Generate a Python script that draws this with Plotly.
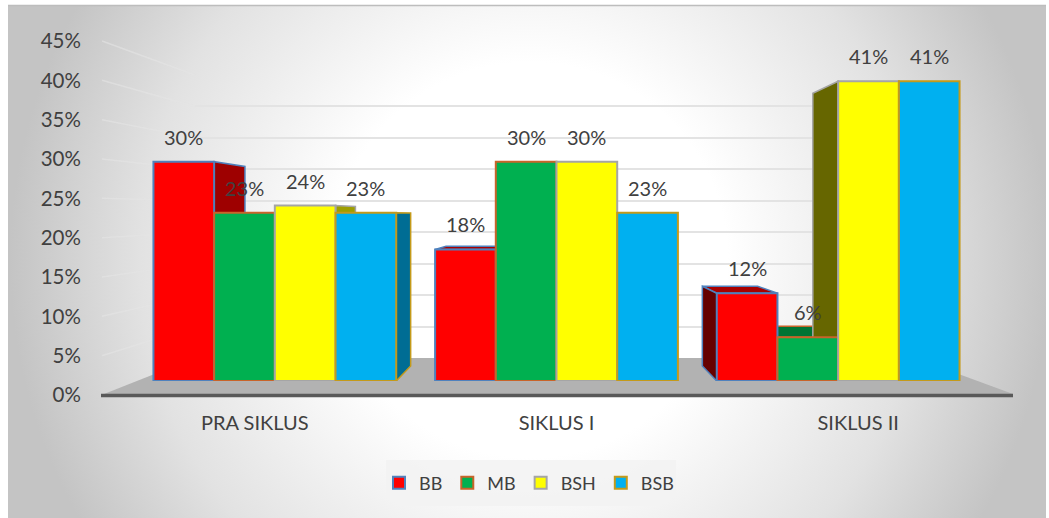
import base64
import plotly.graph_objects as go

categories = ["PRA SIKLUS", "SIKLUS I", "SIKLUS II"]
BB = [30, 18, 12]
MB = [23, 30, 6]
BSH = [24, 30, 41]
BSB = [23, 23, 41]
y_ticks = [0, 5, 10, 15, 20, 25, 30, 35, 40, 45]

W, H = 1049, 518
FONT = "Lato"
TXT = "#404040"
series = [
    ("BB", BB, (255, 0, 0), "#4F81BD"),
    ("MB", MB, (0, 176, 80), "#C8642A"),
    ("BSH", BSH, (255, 255, 0), "#A5A5A5"),
    ("BSB", BSB, (0, 176, 240), "#C49A1A"),
]

def fx(p): return p / W
def fy(p): return 1 - p / H

def shade(rgb, k):
    return "rgb(%d,%d,%d)" % tuple(int(c * k) for c in rgb)

# perspective of the bar depth, in data units of the front plane
GAP = 0.138
BAR_W = (1 - GAP) / 4
VP_X, VP_Y, DEPTH = 1.0, 22.7, 0.91
def back(x, v):
    return VP_X + (x - VP_X) * DEPTH, VP_Y + (v - VP_Y) * DEPTH

fig = go.Figure()

# back wall gridlines carrier
fig.add_trace(go.Scatter(x=[0, 1], y=[0, 45], mode="markers", marker_opacity=0,
                         showlegend=False, hoverinfo="skip", xaxis="x", yaxis="y"))

def face(xs, ys, rgb, k, line):
    fig.add_trace(go.Scatter(x=xs + xs[:1], y=ys + ys[:1], mode="lines", fill="toself",
                             fillcolor=shade(rgb, k), line=dict(color=line, width=1.5),
                             showlegend=False, hoverinfo="skip", xaxis="x2", yaxis="y2"))

# top faces, then side faces
for j, (name, vals, rgb, line) in enumerate(series):
    for i, v in enumerate(vals):
        x0 = i + (j - 2) * BAR_W
        x1 = x0 + BAR_W
        if v < VP_Y:
            a, b = back(x0, v), back(x1, v)
            face([x0, x1, b[0], a[0]], [v, v, b[1], a[1]], rgb, 0.66, line)
for j, (name, vals, rgb, line) in enumerate(series):
    for i, v in enumerate(vals):
        x0 = i + (j - 2) * BAR_W
        x1 = x0 + BAR_W
        if x1 < VP_X - 1e-6:
            a, b = back(x1, 0), back(x1, v)
            face([x1, x1, b[0], a[0]], [0, v, b[1], a[1]], rgb, 0.62, line)
        elif x0 > VP_X + 1e-6:
            a, b = back(x0, 0), back(x0, v)
            face([x0, x0, b[0], a[0]], [0, v, b[1], a[1]], rgb, 0.40, line)

# front faces
for name, vals, rgb, line in series:
    fig.add_trace(go.Bar(name=name, x=categories, y=vals,
                         marker=dict(color=shade(rgb, 1), line=dict(color=line, width=2)),
                         xaxis="x3", yaxis="y3", hoverinfo="skip"))

# carrier for the outer axis labels
fig.add_trace(go.Scatter(x=categories, y=[0, 0, 0], mode="markers", marker_opacity=0,
                         showlegend=False, hoverinfo="skip", xaxis="x4", yaxis="y4"))

# data labels
annotations = []
for j, (name, vals, rgb, line) in enumerate(series):
    for i, v in enumerate(vals):
        annotations.append(dict(x=i + (j - 1.5) * BAR_W, y=v, xref="x2", yref="y2",
                                text=f"{v}%", showarrow=False, yshift=25,
                                font=dict(family=FONT, size=20, color=TXT)))

# backdrop
svg = f"""<svg xmlns='http://www.w3.org/2000/svg' width='1038' height='512'>
<defs><radialGradient id='g' gradientUnits='userSpaceOnUse' cx='522' cy='254' r='520'>
<stop offset='0.38' stop-color='#ffffff'/><stop offset='0.75' stop-color='#e2e2e2'/>
<stop offset='1' stop-color='#c4c4c4'/></radialGradient></defs>
<rect width='1038' height='512' fill='url(#g)'/></svg>"""
src = "data:image/svg+xml;base64," + base64.b64encode(svg.encode()).decode()
images = [dict(source=src, xref="paper", yref="paper", x=fx(8), y=fy(6), sizex=1038 / W,
               sizey=512 / H, sizing="stretch", xanchor="left", yanchor="top", layer="below")]

shapes = [
    dict(type="line", xref="paper", yref="paper", x0=fx(8), x1=fx(1046), y0=fy(5.5), y1=fy(5.5),
         line=dict(color="#BDBDBD", width=1.5), layer="below"),
    dict(type="path", xref="paper", yref="paper", layer="below", line_width=0, fillcolor="#B2B2B2",
         path=f"M{fx(104)},{fy(394)} L{fx(195)},{fy(358)} L{fx(915)},{fy(358)} L{fx(1013)},{fy(394)} Z"),
    dict(type="line", xref="paper", yref="paper", x0=fx(101), x1=fx(1013), y0=fy(395.5), y1=fy(395.5),
         line=dict(color="#595959", width=3.5), layer="below"),
    dict(type="rect", xref="paper", yref="paper", layer="below", line_width=0,
         fillcolor="rgba(242,242,242,0.85)", x0=fx(386), x1=fx(676), y0=fy(460), y1=fy(506)),
]
# side wall gridlines run from the labels to the back wall
for t in y_ticks[1:]:
    shapes.append(dict(type="line", xref="paper", yref="paper", layer="below",
                       x0=fx(102), x1=fx(195),
                       y0=fy(395 - t * (354 / 45)), y1=fy(358 - t * (283 / 45)),
                       line=dict(color="rgba(228,228,228,0.6)", width=1.5)))

front_y = dict(domain=[fy(381), fy(52)], range=[0, 45], visible=False)
front_x = dict(domain=[fx(134), fx(979)], range=[-0.5, 2.5], visible=False)

fig.update_layout(
    template="none",
    width=W, height=H, margin=dict(l=0, r=0, t=0, b=0, pad=0),
    paper_bgcolor="white", plot_bgcolor="rgba(0,0,0,0)",
    barmode="group", bargap=GAP, bargroupgap=0,
    font=dict(family=FONT, color=TXT),
    xaxis=dict(domain=[fx(195), fx(915)], visible=False, range=[0, 1]),
    yaxis=dict(domain=[fy(358), fy(75)], range=[0, 45], tickvals=y_ticks, showgrid=True,
               gridcolor="#E3E3E3", gridwidth=2, showticklabels=False, zeroline=False,
               showline=False, ticks=""),
    xaxis2=dict(front_x, anchor="y2"),
    yaxis2=dict(front_y, anchor="x2"),
    xaxis3=dict(front_x, anchor="y3", type="category", categoryorder="array", categoryarray=categories),
    yaxis3=dict(front_y, anchor="x3"),
    xaxis4=dict(domain=[fx(104), fx(1009)], range=[-0.5, 2.5], anchor="y4", type="category",
                categoryorder="array", categoryarray=categories, showgrid=False, zeroline=False,
                showline=False, automargin=False,
                ticks="outside", ticklen=10, tickcolor="rgba(0,0,0,0)",
                tickfont=dict(family=FONT, size=20, color=TXT)),
    yaxis4=dict(domain=[fy(395), fy(41)], range=[0, 45], anchor="x4", tickvals=y_ticks,
                ticktext=[f"{t}%" for t in y_ticks], showgrid=False, zeroline=False, showline=False,
                automargin=False, ticks="outside", ticklen=18, tickcolor="rgba(0,0,0,0)",
                tickfont=dict(family=FONT, size=20.5, color=TXT)),
    legend=dict(orientation="h", x=fx(529), y=fy(483), xanchor="center", yanchor="middle",
                bgcolor="rgba(0,0,0,0)", font=dict(family=FONT, size=18, color=TXT),
                traceorder="normal", borderwidth=0),
    images=images, shapes=shapes, annotations=annotations,
)

fig.write_html("out.html", post_script="document.body.style.margin='0';",
               config=dict(displayModeBar=False))
